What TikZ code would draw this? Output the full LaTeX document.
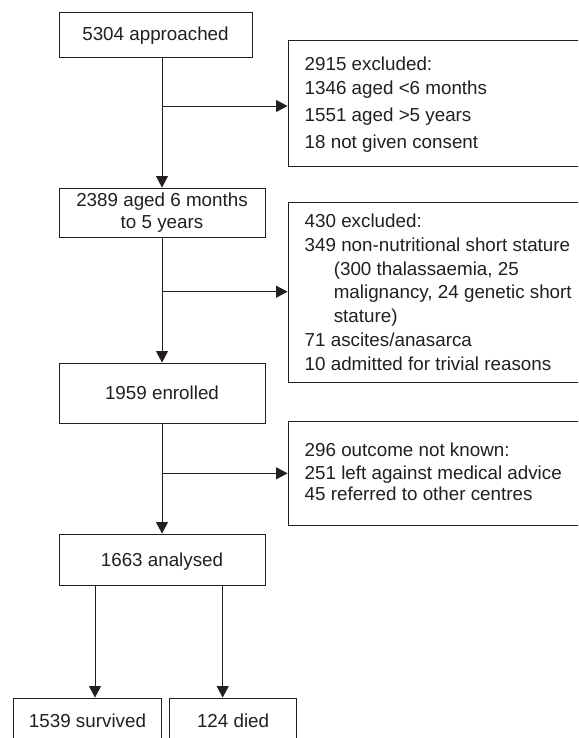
\documentclass[tikz,border=0pt]{standalone}
\usepackage{fontspec}
\setmainfont{Liberation Sans}
\usetikzlibrary{arrows.meta}
\definecolor{ink}{RGB}{35,31,32}
\begin{document}
\begin{tikzpicture}[x=1pt,y=-1pt,
  every node/.style={font=\fontsize{18.8}{21.5}\selectfont, text=ink},
  boxbase/.style={draw=ink, line width=0.9pt, inner sep=0pt},
  onebox/.style={boxbase, text height=17pt, text depth=4pt},
  txt/.style={anchor=base west, inner sep=0pt},
  arr/.style={draw=ink, line width=0.9pt, -{Triangle[length=11.5pt,width=12pt]}}]
\useasboundingbox (0,0) rectangle (578,738);
\fill[white] (0,0) rectangle (578,738);
\clip (0,0) rectangle (578,738);

% main column
\node[onebox, minimum width=193pt, minimum height=45pt] (b1) at (155.5,34.5) {5304 approached};
\node[boxbase, align=center, minimum width=206pt, minimum height=49pt] (b2) at (162,212.5) {2389 aged 6 months\\to 5 years};
\node[onebox, minimum width=206pt, minimum height=60pt] (b3) at (162,393) {1959 enrolled};
\node[onebox, minimum width=206pt, minimum height=51pt] (b4) at (162,559.5) {1663 analysed};
\node[onebox, minimum width=148pt, minimum height=45.6pt] (s1) at (87.5,720.8) {1539 survived};
\node[onebox, minimum width=127.2pt, minimum height=45.6pt] (s2) at (233.1,720.8) {124 died};

% exclusion boxes
\node[boxbase, minimum width=312pt, minimum height=126pt] (ex1) at (444,103) {};
\node[boxbase, minimum width=312pt, minimum height=180pt] (ex2) at (444,292) {};
\node[boxbase, minimum width=312pt, minimum height=104pt] (ex3) at (444,473) {};

\node[txt] (ex1a) at (304.5,70.5) {2915 excluded:};
\node[txt] (ex1b) at (304.5,94.5) {1346 aged <6 months};
\node[txt] (ex1c) at (304.5,121.5) {1551 aged >5 years};
\node[txt] (ex1d) at (304.5,149) {18 not given consent};

\node[txt] (ex2a) at (304.5,227.3) {430 excluded:};
\node[txt] (ex2b) at (304.5,251) {349 non-nutritional short stature};
\node[txt] (ex2c) at (333.6,275) {(300 thalassaemia, 25};
\node[txt] (ex2d) at (333.6,298.5) {malignancy, 24 genetic short};
\node[txt] (ex2e) at (333.6,322) {stature)};
\node[txt] (ex2f) at (304.5,346) {71 ascites/anasarca};
\node[txt] (ex2g) at (304.5,370) {10 admitted for trivial reasons};

\node[txt] (ex3a) at (304.5,456) {296 outcome not known:};
\node[txt] (ex3b) at (304.5,479) {251 left against medical advice};
\node[txt] (ex3c) at (304.5,500.7) {45 referred to other centres};

% connectors
\coordinate (j0) at (b1.south -| b2.north);
\draw[arr] (j0) -- (b2.north);
\coordinate (j1) at (162,106);
\draw[arr] (j1) -- (j1 -| ex1.west);
\draw[arr] (b2.south) -- (b3.north);
\coordinate (j2) at (162,291.7);
\draw[arr] (j2) -- (j2 -| ex2.west);
\draw[arr] (b3.south) -- (b4.north);
\coordinate (j3) at (162,473.3);
\draw[arr] (j3) -- (j3 -| ex3.west);
\coordinate (k1) at (95,585);
\draw[arr] (k1) -- (k1 |- s1.north);
\coordinate (k2) at (222.7,585);
\draw[arr] (k2) -- (k2 |- s2.north);
\end{tikzpicture}
\end{document}
